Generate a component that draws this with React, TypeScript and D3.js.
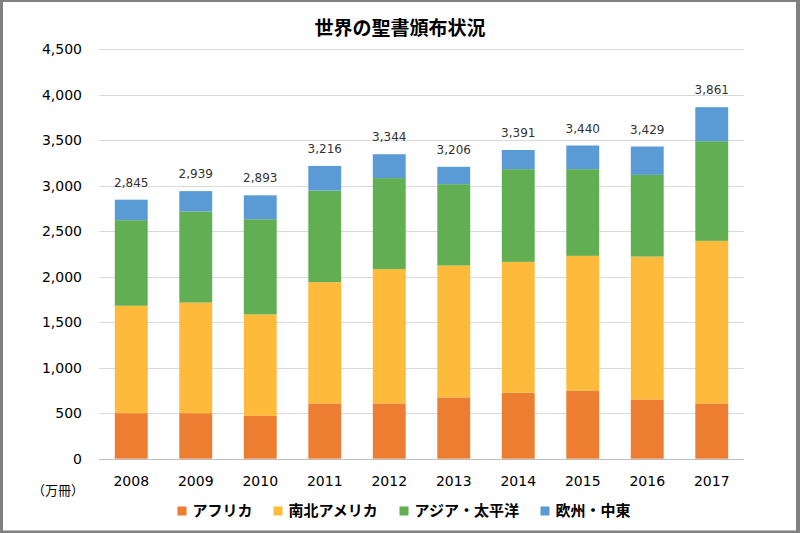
import React from "react";
import * as d3 from "d3";

const years = ["2008", "2009", "2010", "2011", "2012", "2013", "2014", "2015", "2016", "2017"];
const africa = [500, 500, 470, 607, 607, 673, 724, 748, 651, 607];
const americas = [1180, 1215, 1115, 1332, 1475, 1449, 1438, 1480, 1569, 1786];
const asiaPacific = [940, 1000, 1045, 1006, 1000, 893, 1018, 952, 897, 1094];
const europeMideast = [225, 224, 263, 271, 262, 191, 211, 260, 312, 374];
const totals = [2845, 2939, 2893, 3216, 3344, 3206, 3391, 3440, 3429, 3861];
const seriesNames = ["アフリカ", "南北アメリカ", "アジア・太平洋", "欧州・中東"];
const seriesKeys = ["africa", "americas", "asia", "europe"];
const yTicks = [0, 500, 1000, 1500, 2000, 2500, 3000, 3500, 4000, 4500];
const title = "世界の聖書頒布状況";
const unitLabel = "（万冊）";

const colors = ["#ED7D31", "#FDBA3B", "#62AE53", "#5B9BD5"];

const W = 800;
const H = 533;
const M = { left: 99, right: 56, top: 49, bottom: 74.3 };
const NUM_FONT = "'DejaVu Sans', Verdana, sans-serif";
const JP_FONT = "'Noto Sans CJK JP', 'Noto Sans', sans-serif";

export default function App() {
  const rows = years.map((y, i) => ({
    year: y,
    africa: africa[i],
    americas: americas[i],
    asia: asiaPacific[i],
    europe: europeMideast[i],
  }));
  const stacked = d3.stack<any>().keys(seriesKeys)(rows);

  const x = d3
    .scaleBand<string>()
    .domain(years)
    .range([M.left, W - M.right])
    .padding(0);
  const y = d3
    .scaleLinear()
    .domain([0, 4500])
    .range([H - M.bottom, M.top]);

  const barW = x.bandwidth() * 0.51;
  const fmt = d3.format(",");

  // legend layout
  const legFont = 15;
  const sq = 9;
  const sqGap = 6;
  const itemGap = 21;
  const itemWidths = seriesNames.map((n) => sq + sqGap + n.length * legFont);
  const legTotal = d3.sum(itemWidths) + itemGap * (seriesNames.length - 1);
  let legX = 404 - legTotal / 2;
  const legY = 511;
  const legendItems = seriesNames.map((n, i) => {
    const pos = legX;
    legX += itemWidths[i] + itemGap;
    return { name: n, x: pos, color: colors[i] };
  });

  return (
    <svg
      width={W}
      height={H}
      style={{ position: "absolute", left: 0, top: 0, background: "#fff" }}
    >
      <rect x={0} y={0} width={W} height={H} fill="#fff" />
      {/* frame */}
      <rect x={0} y={0} width={3} height={H} fill="#808080" />
      <rect x={0} y={0} width={W} height={2} fill="#808080" />
      <rect x={W - 4} y={0} width={4} height={H} fill="#808080" />
      <rect x={0} y={H - 2.5} width={W} height={2.5} fill="#808080" />

      <text
        x={400}
        y={35}
        textAnchor="middle"
        fontFamily={JP_FONT}
        fontWeight={700}
        fontSize={19}
        fill="#000"
      >
        {title}
      </text>

      {/* grid */}
      {yTicks.map((t) => (
        <g key={t}>
          <line
            x1={M.left}
            x2={W - M.right}
            y1={Math.round(y(t)) + 0.5}
            y2={Math.round(y(t)) + 0.5}
            stroke={t === 0 ? "#bfbfbf" : "#d9d9d9"}
            strokeWidth={1.2}
          />
          <text
            x={82}
            y={y(t)}
            dy="0.36em"
            textAnchor="end"
            fontFamily={NUM_FONT}
            fontSize={14}
            fill="#000"
          >
            {fmt(t)}
          </text>
        </g>
      ))}

      {/* bars */}
      {stacked.map((s, si) => (
        <g key={s.key} fill={colors[si]}>
          {s.map((d, i) => (
            <rect
              key={i}
              x={(x(years[i]) as number) + (x.bandwidth() - barW) / 2}
              y={y(d[1])}
              width={barW}
              height={y(d[0]) - y(d[1])}
            />
          ))}
        </g>
      ))}

      {/* total labels */}
      {totals.map((t, i) => (
        <text
          key={i}
          x={(x(years[i]) as number) + x.bandwidth() / 2}
          y={y(t) - 13}
          textAnchor="middle"
          fontFamily={NUM_FONT}
          fontSize={12}
          fill="#333"
        >
          {fmt(t)}
        </text>
      ))}

      {/* x labels */}
      {years.map((yr) => (
        <text
          key={yr}
          x={(x(yr) as number) + x.bandwidth() / 2}
          y={486}
          textAnchor="middle"
          fontFamily={NUM_FONT}
          fontSize={14}
          fill="#000"
        >
          {yr}
        </text>
      ))}

      <text
        x={84}
        y={495}
        textAnchor="end"
        fontFamily={JP_FONT}
        fontSize={13}
        fill="#000"
      >
        {unitLabel}
      </text>

      {/* legend */}
      {legendItems.map((it) => (
        <g key={it.name}>
          <rect x={it.x} y={legY - sq / 2} width={sq} height={sq} fill={it.color} />
          <text
            x={it.x + sq + sqGap}
            y={legY}
            dy="0.36em"
            fontFamily={JP_FONT}
            fontWeight={700}
            fontSize={legFont}
            fill="#000"
          >
            {it.name}
          </text>
        </g>
      ))}
    </svg>
  );
}
